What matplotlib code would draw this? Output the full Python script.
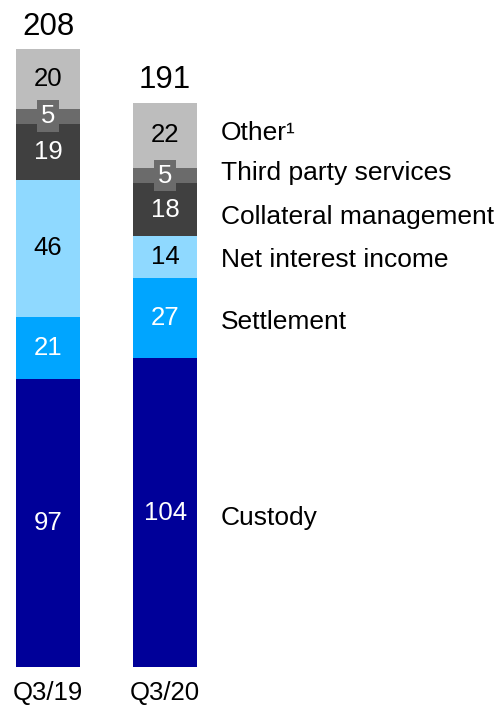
import matplotlib.pyplot as plt

plt.rcParams['font.family'] = ['Liberation Sans', 'DejaVu Sans']

quarters = ["Q3/19", "Q3/20"]
segments = ["Custody", "Settlement", "Net interest income",
            "Collateral management", "Third party services", "Other¹"]
q3_19 = [97, 21, 46, 19, 5, 20]
q3_20 = [104, 27, 14, 18, 5, 22]
totals = [208, 191]

colors = ["#000099", "#00A5FF", "#8FD9FF", "#404040", "#6B6B6B", "#BDBDBD"]
text_colors = ["white", "white", "black", "white", "white", "black"]
label_shift = [-1.7, -1.3, -1, -2.5, 0.7, 0.8]   # nudge right-hand labels

fig = plt.figure(figsize=(5, 7.07), dpi=100)
ax = fig.add_axes([0, 0, 1, 1])

x = [0, 1]
w = 0.547
data = [q3_19, q3_20]
for i in range(2):
    bottom = 0
    for j, v in enumerate(data[i]):
        ax.bar(x[i], v, w, bottom=bottom, color=colors[j], edgecolor="none")
        mid = bottom + v / 2
        if v <= 5:
            ax.text(x[i], mid, str(v), ha="center", va="center", fontsize=18.5,
                    color=text_colors[j],
                    bbox=dict(boxstyle="square,pad=0.15", fc=colors[j], ec="none"))
        else:
            ax.text(x[i], mid, str(v), ha="center", va="center", fontsize=18.5,
                    color=text_colors[j])
        bottom += v
    ax.text(x[i], bottom + 2.5, str(totals[i]), ha="center", va="bottom",
            fontsize=22.5)
    ax.text(x[i], -4.8, quarters[i], ha="center", va="top", fontsize=18.5)

# labels next to the second bar
bottom = 0
for j, v in enumerate(q3_20):
    mid = bottom + v / 2 + label_shift[j]
    ax.text(1.475, mid, segments[j], ha="left", va="center", fontsize=19)
    bottom += v

ax.set_xlim(-0.41, 3.86)
ax.set_ylim(-13.47, 224.6)
ax.axis("off")

fig.savefig("out.png", dpi=100)
